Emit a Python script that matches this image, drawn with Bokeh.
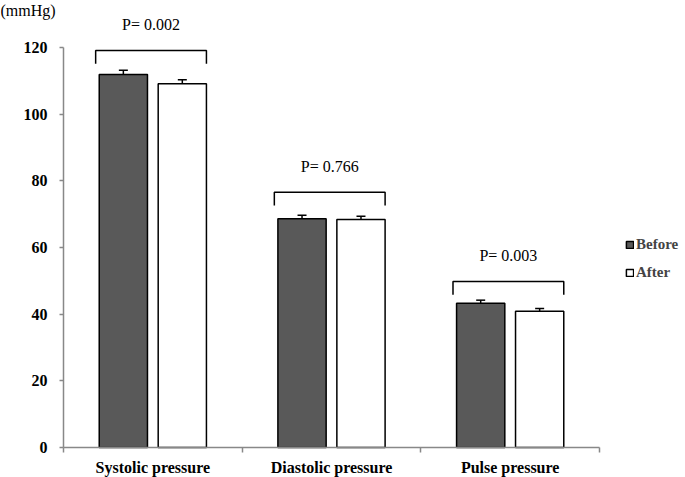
from bokeh.plotting import figure
from bokeh.models import (ColumnDataSource, FixedTicker, Whisker, TeeHead,
                          Legend, LegendItem, Range1d, LinearAxis)
from bokeh.core.properties import value
from bokeh.embed import file_html
from bokeh.resources import INLINE

# ---- data ----
categories = ["Systolic pressure", "Diastolic pressure", "Pulse pressure"]
before = [111.9, 68.6, 43.3]
before_err = [1.3, 1.05, 0.9]
after = [109.1, 68.4, 40.9]
after_err = [1.25, 1.0, 0.8]
p_values = ["P= 0.002", "P= 0.766", "P= 0.003"]
bracket_level = [119.1, 76.6, 49.8]
y_ticks = [0, 20, 40, 60, 80, 100, 120]
unit_label = "(mmHg)"

# ---- layout constants ----
BAR_W = 0.27
OFF = 0.165
SERIF = "Liberation Serif"
X0, X1 = -0.3526, 3.4813
Y0, Y1 = -9.0, 134.1
centers = [i + 0.5 for i in range(len(categories))]

src_b = ColumnDataSource(dict(
    x=[c - OFF for c in centers], top=before,
    lo=[v - e for v, e in zip(before, before_err)],
    hi=[v + e for v, e in zip(before, before_err)]))
src_a = ColumnDataSource(dict(
    x=[c + OFF for c in centers], top=after,
    lo=[v - e for v, e in zip(after, after_err)],
    hi=[v + e for v, e in zip(after, after_err)]))

p = figure(width=685, height=477, output_backend="svg", toolbar_location=None,
           x_range=Range1d(X0, X1), y_range=Range1d(Y0, Y1),
           x_axis_type=None, y_axis_type=None,
           min_border_left=0, min_border_right=0, min_border_top=0,
           min_border_bottom=0)
p.outline_line_color = None
p.grid.visible = False
p.background_fill_color = "white"

rb = p.vbar(x="x", top="top", width=BAR_W, source=src_b,
            fill_color="#595959", line_color="black", line_width=1.5)
ra = p.vbar(x="x", top="top", width=BAR_W, source=src_a,
            fill_color="white", line_color="black", line_width=1.5)

for s in (src_b, src_a):
    w = Whisker(base="x", lower="lo", upper="hi", source=s,
                line_color="black", line_width=1.5,
                upper_head=TeeHead(size=9, line_color="black", line_width=1.5),
                lower_head=TeeHead(size=9, line_color="black", line_width=1.5))
    p.add_layout(w)

# significance brackets
DROP = 4.0
xs, ys = [], []
for c, lvl in zip(centers, bracket_level):
    xs.append([c - 0.32, c - 0.32, c + 0.30, c + 0.30])
    ys.append([lvl - DROP, lvl, lvl, lvl - DROP])
p.multi_line(xs=xs, ys=ys, line_color="black", line_width=1.5)

p.text(x=[c - 0.01 for c in centers], y=[l + 7.7 for l in bracket_level],
       text=p_values, text_align="center", text_baseline="middle",
       text_font=value(SERIF), text_font_size="16px", text_color="black")

# unit label at the top-left corner
p.text(x=[X0], y=[Y1], text=[unit_label], text_align="left",
       text_baseline="top", text_font=value(SERIF), text_font_size="16px",
       text_color="black", y_offset=1)

# axes drawn at fixed data positions inside the frame
ya = LinearAxis(fixed_location=0, bounds=(0, 120),
                ticker=FixedTicker(ticks=y_ticks))
ya.axis_line_color = "#888888"
ya.axis_line_width = 1.5
ya.major_tick_line_color = "#888888"
ya.major_tick_line_width = 1.5
ya.major_tick_in = 0
ya.major_tick_out = 4
ya.minor_tick_line_color = None
ya.major_label_standoff = 12
ya.major_label_text_font = SERIF
ya.major_label_text_font_style = "bold"
ya.major_label_text_font_size = "16px"
ya.major_label_text_color = "black"
p.add_layout(ya, "left")

xa = LinearAxis(fixed_location=0, bounds=(0, 3),
                ticker=FixedTicker(ticks=centers,
                                   minor_ticks=list(range(len(categories) + 1))))
xa.major_label_overrides = {c: name for c, name in zip(centers, categories)}
xa.axis_line_color = "#888888"
xa.axis_line_width = 1.5
xa.major_tick_line_color = None
xa.major_tick_out = 0
xa.major_tick_in = 0
xa.minor_tick_line_color = "#888888"
xa.minor_tick_line_width = 1.5
xa.minor_tick_out = 5
xa.minor_tick_in = 0
xa.major_label_standoff = 6
xa.major_label_text_font = SERIF
xa.major_label_text_font_style = "bold"
xa.major_label_text_font_size = "16px"
xa.major_label_text_color = "black"
p.add_layout(xa, "below")

legend = Legend(items=[LegendItem(label="Before", renderers=[rb]),
                       LegendItem(label="After", renderers=[ra])],
                location=(625, 195), padding=0, margin=0, spacing=8,
                glyph_width=9, glyph_height=9, label_standoff=2,
                label_text_font=SERIF, label_text_font_style="bold",
                label_text_font_size="15px", label_height=20,
                border_line_color=None, background_fill_alpha=0)
p.add_layout(legend)

open("out.html", "w").write(file_html(p, INLINE))
